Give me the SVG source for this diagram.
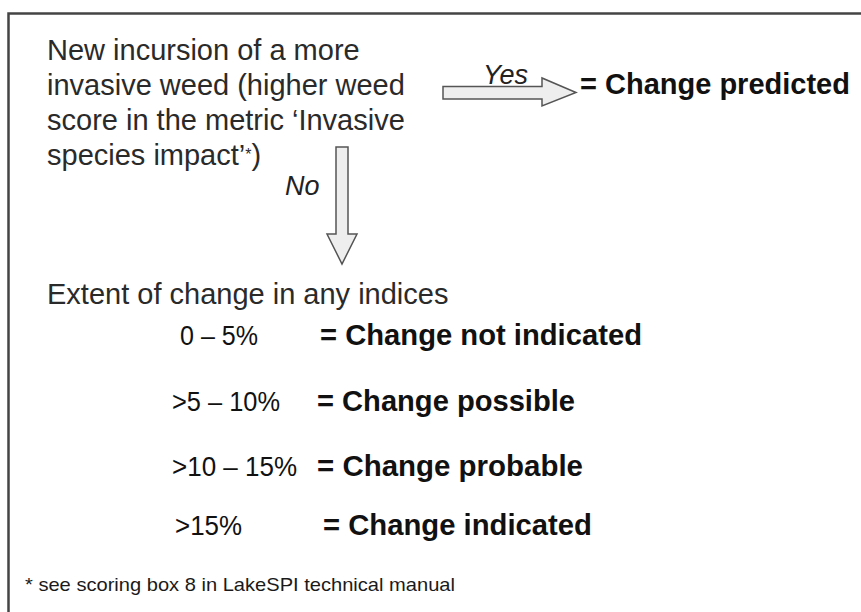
<svg xmlns="http://www.w3.org/2000/svg" width="861" height="612" viewBox="0 0 861 612">
  <style>
    .q { font-family: "Liberation Sans", Arial, sans-serif; font-size: 29px; fill: #2a2a2a; }
    .lbl { font-family: "Liberation Sans", Arial, sans-serif; font-size: 27px; font-style: italic; fill: #222; }
    .r { font-family: "Liberation Sans", Arial, sans-serif; font-size: 29px; font-weight: bold; fill: #111; }
    .pct { font-family: "Liberation Sans", Arial, sans-serif; font-size: 27px; fill: #111; }
    .fn { font-family: "Liberation Sans", Arial, sans-serif; font-size: 19px; fill: #1a1a1a; }
    .arrow { fill: #eeeeee; stroke: #555; stroke-width: 1.5; }
  </style>
  <rect x="0" y="0" width="861" height="612" fill="#ffffff"/>
  <path d="M8.5 612 V13.5 H861" fill="none" stroke="#444" stroke-width="2.5"/>

  <g id="question">
    <text class="q" x="47" y="60">New incursion of a more</text>
    <text class="q" x="47" y="95">invasive weed (higher weed</text>
    <text class="q" x="47" y="130">score in the metric ‘Invasive</text>
    <text class="q" x="47" y="165">species impact’<tspan font-size="16" dy="-5">*</tspan><tspan dy="5">)</tspan></text>
  </g>

  <g id="connectors">
    <path class="arrow" d="M443 86.5 H542 V78 L576 92.5 L542 106 V99 H443 Z"/>
    <text class="lbl" x="483" y="84">Yes</text>
    <path class="arrow" d="M336 147 H348 V234 H357 L342 264 L327 234 H336 Z"/>
    <text class="lbl" x="285" y="195">No</text>
  </g>

  <g id="predicted">
    <text class="r" x="580" y="94">= Change predicted</text>
  </g>

  <g id="extent">
    <text class="q" x="47" y="304">Extent of change in any indices</text>
    <text class="pct" x="180" y="345" textLength="78" lengthAdjust="spacingAndGlyphs">0 – 5%</text>
    <text class="r" x="320" y="345" textLength="322" lengthAdjust="spacingAndGlyphs">= Change not indicated</text>
    <text class="pct" x="172" y="411" textLength="108" lengthAdjust="spacingAndGlyphs">&gt;5 – 10%</text>
    <text class="r" x="317" y="411" textLength="258" lengthAdjust="spacingAndGlyphs">= Change possible</text>
    <text class="pct" x="172" y="476" textLength="125" lengthAdjust="spacingAndGlyphs">&gt;10 – 15%</text>
    <text class="r" x="317" y="476" textLength="266" lengthAdjust="spacingAndGlyphs">= Change probable</text>
    <text class="pct" x="175" y="535" textLength="67" lengthAdjust="spacingAndGlyphs">&gt;15%</text>
    <text class="r" x="323" y="535" textLength="269" lengthAdjust="spacingAndGlyphs">= Change indicated</text>
  </g>

  <g id="footnote">
    <text class="fn" x="25" y="591" textLength="430" lengthAdjust="spacingAndGlyphs">* see scoring box 8 in LakeSPI technical manual</text>
  </g>
</svg>
